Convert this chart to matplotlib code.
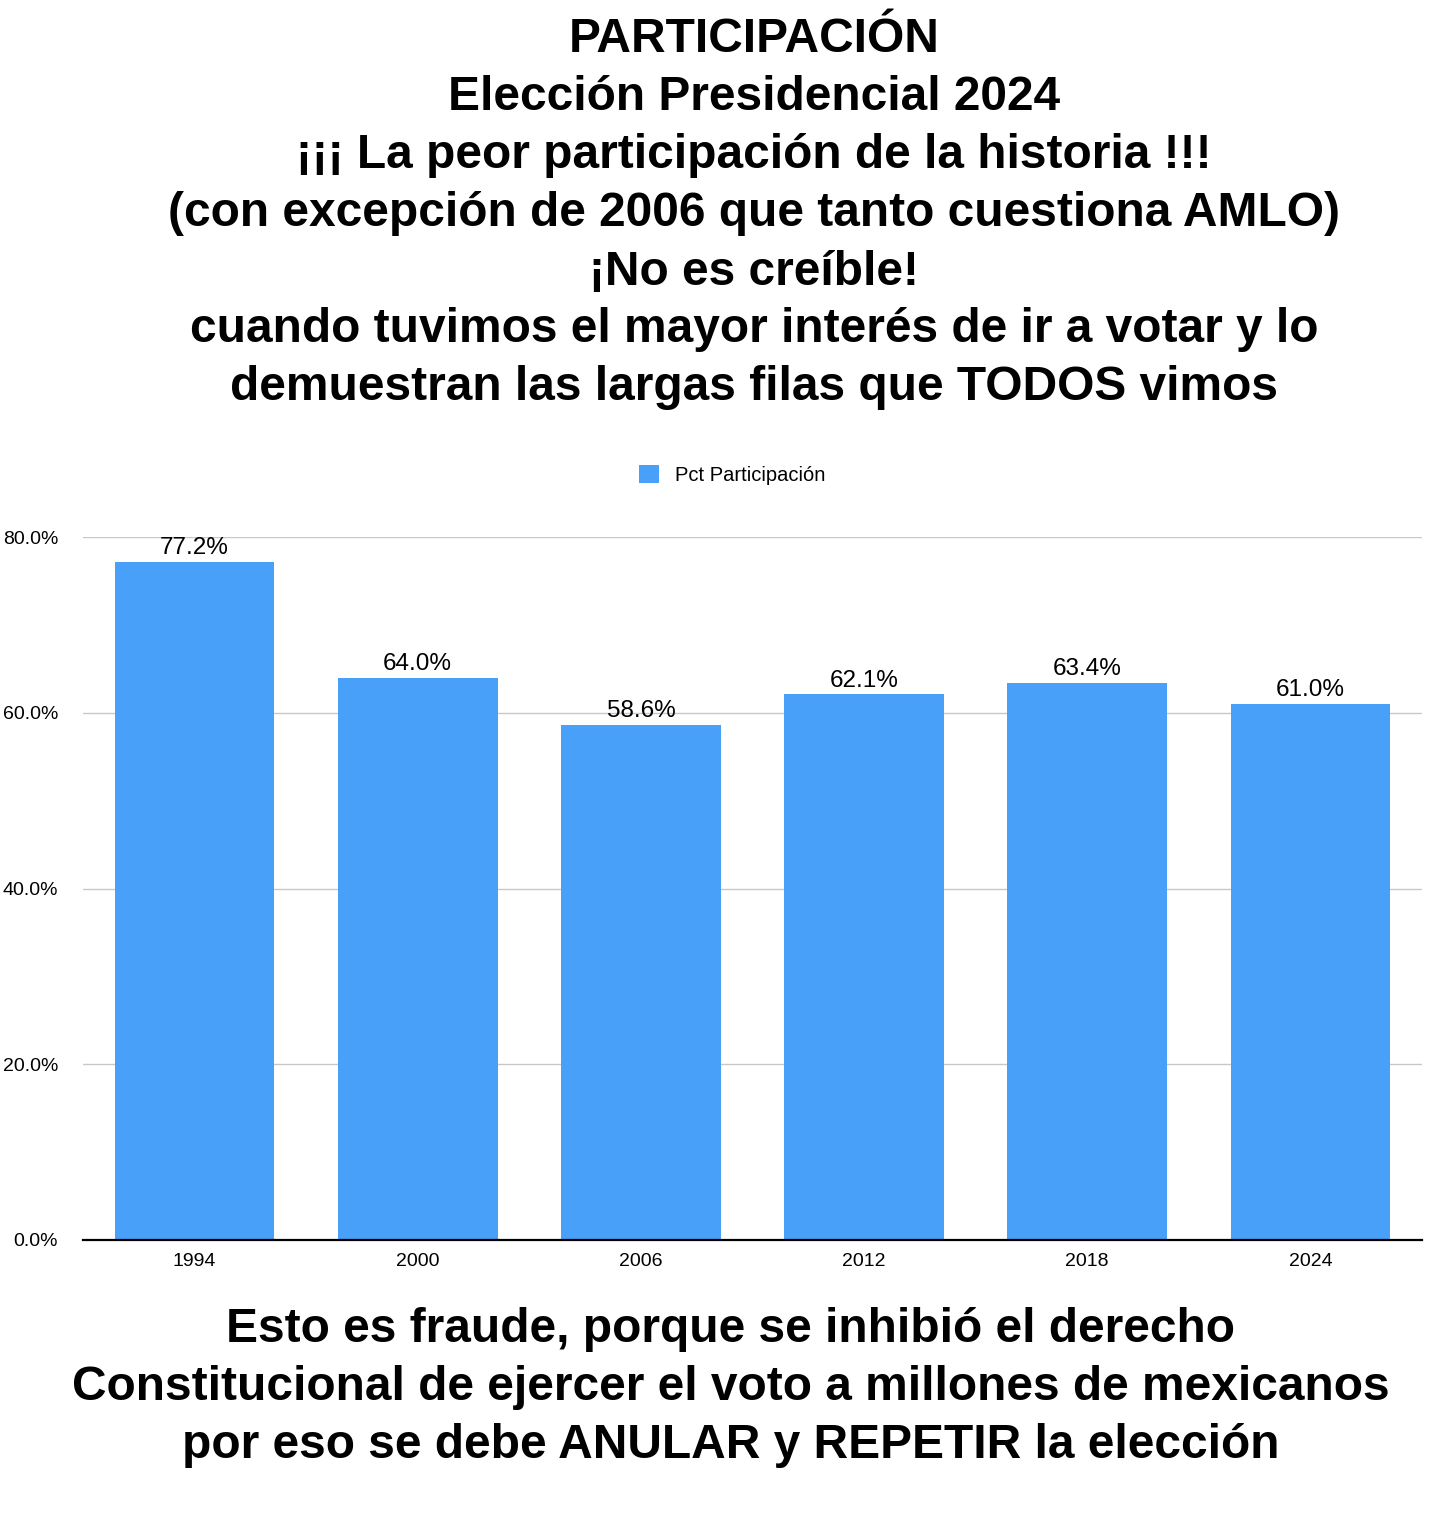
import matplotlib
matplotlib.use("Agg")
import matplotlib.pyplot as plt
from matplotlib.ticker import FuncFormatter

plt.rcParams['font.family'] = ['Liberation Sans', 'DejaVu Sans']

years = ['1994', '2000', '2006', '2012', '2018', '2024']
pct = [77.2, 64.0, 58.6, 62.1, 63.4, 61.0]
series_name = 'Pct Participación'

title_lines = [
    'PARTICIPACIÓN',
    'Elección Presidencial 2024',
    '¡¡¡ La peor participación de la historia !!!',
    '(con excepción de 2006 que tanto cuestiona AMLO)',
    '¡No es creíble!',
    'cuando tuvimos el mayor interés de ir a votar y lo',
    'demuestran las largas filas que TODOS vimos',
]
footer_lines = [
    'Esto es fraude, porque se inhibió el derecho',
    'Constitucional de ejercer el voto a millones de mexicanos',
    'por eso se debe ANULAR y REPETIR la elección',
]

W, H = 1436, 1540
fig = plt.figure(figsize=(W / 100, H / 100), dpi=100)
ax = fig.add_axes([83 / W, 1 - 1240 / H, (1422 - 83) / W, (1240 - 537) / H])

bar_color = '#48A0F8'
bars = ax.bar(years, pct, width=0.715, color=bar_color, label=series_name, zorder=2)
for b, v in zip(bars, pct):
    ax.annotate(f'{v:.1f}%', (b.get_x() + b.get_width() / 2, v), xytext=(0, 2),
                textcoords='offset points', ha='center', va='bottom', fontsize=17.5)

ax.set_ylim(0, 80)
ax.set_xlim(-0.5, len(years) - 0.5)
ax.set_yticks([0, 20, 40, 60, 80])
ax.yaxis.set_major_formatter(FuncFormatter(lambda v, p: f'{v:.1f}%'))
ax.grid(axis='y', color='#c8c8c8', linewidth=1, zorder=0)
for s in ['top', 'right', 'left']:
    ax.spines[s].set_visible(False)
ax.spines['bottom'].set_linewidth(1.6)
ax.tick_params(axis='y', length=0, pad=18, labelsize=14)
ax.tick_params(axis='x', length=0, pad=9, labelsize=14)

ax.legend(loc='center', bbox_to_anchor=(0.485, 1 + (537 - 475) / (1240 - 537)),
          frameon=False, fontsize=14.5, handlelength=1.0, handleheight=1.0)

y0 = 40
for i, t in enumerate(title_lines):
    fig.text(754 / W, 1 - (y0 + 58 * i) / H, t, ha='center', va='center',
             fontsize=34.5, fontweight='bold')

y1 = 1330
for i, t in enumerate(footer_lines):
    fig.text(731 / W, 1 - (y1 + 58 * i) / H, t, ha='center', va='center',
             fontsize=34.5, fontweight='bold')

fig.savefig('out.png', dpi=100)
